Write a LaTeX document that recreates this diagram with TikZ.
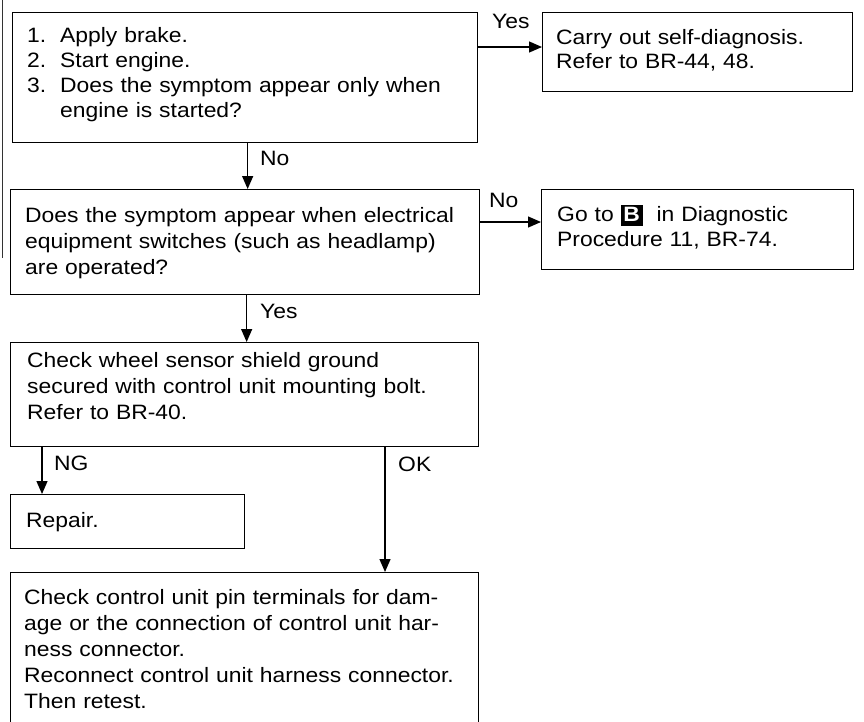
\documentclass[tikz,border=0pt]{standalone}
\usepackage{fontspec}
\setmainfont[FakeStretch=1.1]{Liberation Sans}
\usetikzlibrary{arrows.meta}
\tikzset{
  x=1pt, y=-1pt,
  box/.style={draw=black, line width=1.3pt, rectangle, inner sep=0pt, anchor=north west},
  txt/.style={anchor=base west, inner sep=0pt, align=left, text width=#1,
    font=\fontsize{20.8}{25}\selectfont},
  txt/.default=470pt,
  lbl/.style={anchor=base west, inner sep=0pt, font=\fontsize{20.8}{25}\selectfont},
  arr/.style={line width=1.3pt, -{Triangle[length=13pt,width=11pt]}},
}
\newcommand{\Bbox}{{\setlength\fboxsep{2pt}\colorbox{black}{\rule[-3pt]{0pt}{17pt}\makebox[18pt]{\color{white}\bfseries B}}}}
\begin{document}
\begin{tikzpicture}
\useasboundingbox (0,0) rectangle (864,721);
\clip (0,0) rectangle (864,721);
\fill[white] (0,0) rectangle (864,721);

% scan edge line
\draw[line width=1pt, black!80] (2,0) -- (2,258);

% boxes
\node[box, minimum width=465pt, minimum height=130pt] (b1) at (12,12) {};
\node[box, minimum width=310pt, minimum height=79pt] (b2) at (542,12) {};
\node[box, minimum width=469pt, minimum height=105pt] (b3) at (10,189) {};
\node[box, minimum width=312pt, minimum height=80pt] (b4) at (541,189) {};
\node[box, minimum width=468pt, minimum height=104pt] (b5) at (10,342) {};
\node[box, minimum width=234pt, minimum height=54pt] (b6) at (10,494) {};
\node[box, minimum width=468pt, minimum height=170pt] (b7) at (10,572) {};

% texts
\node[txt] (t1) at (27,42) {\makebox[33pt][l]{1.}Apply brake.\\
\makebox[33pt][l]{2.}Start engine.\\
\makebox[33pt][l]{3.}Does the symptom appear only when\\
\hspace*{33pt}engine is started?};
\node[txt=300pt, font=\fontsize{20.8}{24.5}\selectfont] (t2) at (556,44) {Carry out self-diagnosis.\\Refer to BR-44, 48.};
\node[txt, font=\fontsize{20.8}{26}\selectfont] (t3) at (25,222) {Does the symptom appear when electrical\\
equipment switches (such as headlamp)\\
are operated?};
\node[txt=310pt, font=\fontsize{20.8}{25}\selectfont] (t4) at (557,221) {Go to \Bbox\ \ in Diagnostic\\Procedure 11, BR-74.};
\node[txt, font=\fontsize{20.8}{26}\selectfont] (t5) at (27,367) {Check wheel sensor shield ground\\
secured with control unit mounting bolt.\\
Refer to BR-40.};
\node[txt=220pt] (t6) at (26,527) {Repair.};
\node[txt, font=\fontsize{20.8}{26}\selectfont] (t7) at (24,604) {Check control unit pin terminals for dam-\\
age or the connection of control unit har-\\
ness connector.\\
Reconnect control unit harness connector.\\
Then retest.};

% connectors
\draw[arr] ([yshift=-35pt]b1.north east) -- ([yshift=-35pt]b2.north west);
\draw[arr] ([xshift=2.5pt]b1.south) -- ([xshift=2.5pt]b1.south |- b3.north);
\draw[arr] ([yshift=-33pt]b3.north east) -- ([yshift=-33pt]b4.north west);
\draw[arr] ([xshift=1.5pt]b3.south) -- ([xshift=1.5pt]b3.south |- b5.north);
\draw[arr] ([xshift=32pt]b5.south west) -- ([xshift=32pt]b5.south west |- b6.north);
\draw[arr] ([xshift=375pt]b5.south west) -- ([xshift=375pt]b5.south west |- b7.north);

% labels
\node[lbl] (l1) at (492,28) {Yes};
\node[lbl] (l2) at (260,165) {No};
\node[lbl] (l3) at (489,207) {No};
\node[lbl] (l4) at (260,318) {Yes};
\node[lbl] (l5) at (54,470) {NG};
\node[lbl] (l6) at (398,471) {OK};
\end{tikzpicture}
\end{document}
